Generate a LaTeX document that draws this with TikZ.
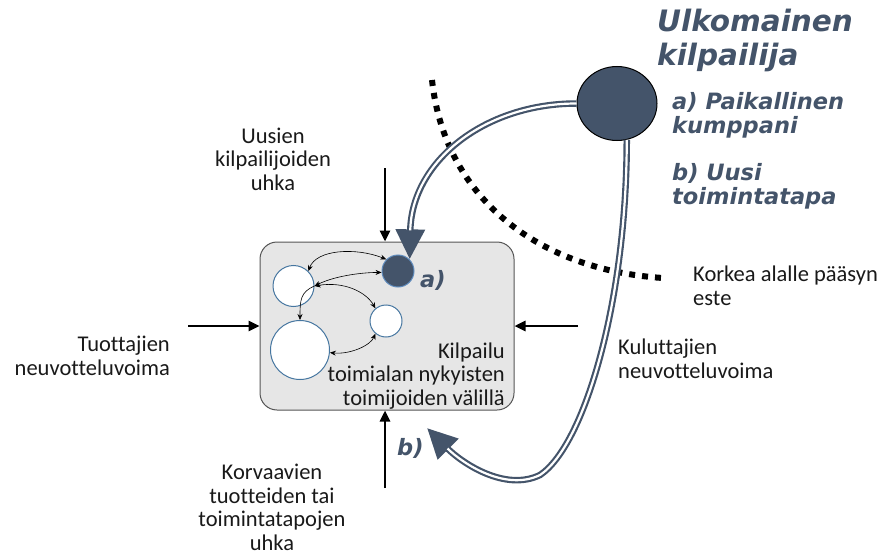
\documentclass[tikz,border=0pt]{standalone}
\usepackage{fontspec}
\setmainfont[Ligatures=NoCommon]{Carlito}
\newfontfamily\headfont{DejaVu Sans}
\usetikzlibrary{arrows.meta,shapes.geometric}
\definecolor{slate}{RGB}{68,84,106}
\definecolor{boxfill}{RGB}{230,230,230}
\definecolor{boxline}{RGB}{85,85,85}
\definecolor{ringblue}{RGB}{70,118,160}
\definecolor{dkring}{RGB}{95,140,190}
\tikzset{
  mainbox/.style={draw=boxline, fill=boxfill, line width=1pt, rounded corners=17pt,
    minimum width=254pt, minimum height=168pt, inner sep=0pt},
  wcirc/.style={circle, draw=ringblue, fill=white, line width=1pt, inner sep=0pt},
  dkcirc/.style={circle, draw=dkring, fill=slate, line width=1pt, inner sep=0pt},
  bodytxt/.style={font=\fontsize{22.5}{23.5}\selectfont, inner sep=0pt, text=black!90},
  headtxt/.style={font=\headfont\bfseries\itshape\fontsize{29.5}{34}\selectfont, text=slate, inner sep=0pt, align=left},
  subtxt/.style={font=\headfont\bfseries\itshape\fontsize{22.5}{24}\selectfont, text=slate, inner sep=0pt, align=left},
  force/.style={line width=2.6pt, -{Triangle[length=11pt,width=10pt]}},
  rel/.style={line width=0.6pt, -{Stealth[length=6pt,width=5pt]}},
  relboth/.style={line width=0.6pt, {Stealth[length=6pt,width=5pt]}-{Stealth[length=6pt,width=5pt]}},
  dblout/.style={draw=slate, line width=6.5pt, -{Triangle[length=30pt,width=28pt]}},
  dblin/.style={draw=white, line width=2.2pt, shorten >=29pt},
  barrier/.style={line width=6pt, dash pattern=on 6pt off 7pt}
}
\begin{document}
\begin{tikzpicture}[x=1pt,y=-1pt]
\useasboundingbox (0,0) rectangle (883,559);

% barrier (dotted)
\draw[barrier] (432,80) .. controls (445,200) and (540,270) .. (663,278);

% main box
\node[mainbox] (box) at (387,326) {};

% circles inside
\node[wcirc, minimum size=41pt] (c1) at (293.5,286) {};
\node[wcirc, minimum size=59pt] (c2) at (300,350) {};
\node[wcirc, minimum size=32pt] (c3) at (386,321) {};
\node[dkcirc, minimum size=32pt] (dk) at (398,271) {};

% relations
\draw[relboth] (c1.45) .. controls +(8,-22) and +(-30,-12) .. (dk.135);
\draw[relboth] (c1.east) .. controls +(20,-10) and +(-20,0) .. (dk.185);
\draw[relboth] (c1.east) .. controls +(30,-5) and +(-9,-16) .. (c3.130);
\draw[rel] (c1.east) .. controls +(-14,6) and +(0,-20) .. (c2.north);
\draw[relboth] (c2.-5) .. controls +(20,2) and +(-5,12) .. (c3.230);

% box text
\node[bodytxt, align=right, anchor=base east] (comp) at (505,405)
  {Kilpailu\\toimialan nykyisten\\toimijoiden välillä};

% forces
\coordinate (ftop) at (385,168);
\coordinate (fbot) at (385,488);
\coordinate (fleft) at (188,326);
\coordinate (fright) at (578,326);
\draw[force] (ftop) -- (ftop |- box.north);
\draw[force] (fbot) -- (fbot |- box.south);
\draw[force] (fleft) -- (box.west);
\draw[force] (fright) -- (box.east);

% force labels
\node[bodytxt, align=center, anchor=base] (newc) at (273,190)
  {Uusien\\kilpailijoiden\\uhka};
\node[bodytxt, align=right, anchor=base east] (supp) at (170,375)
  {Tuottajien\\neuvotteluvoima};
\node[bodytxt, align=left, anchor=base west] (cust) at (618,378)
  {Kuluttajien\\neuvotteluvoima};
\node[bodytxt, align=center, anchor=base] (subs) at (272,550)
  {Korvaavien\\tuotteiden tai\\toimintatapojen\\uhka};
\node[bodytxt, align=left, anchor=base west] (barr) at (693,305)
  {Korkea alalle pääsyn\\este};

% foreign competitor
\node[ellipse, draw=black, fill=slate, line width=1pt, minimum width=80pt, minimum height=74pt, inner sep=0pt] (ext) at (617,103.5) {};
\node[headtxt, anchor=base west] (title) at (657,66) {Ulkomainen\\kilpailija};
\node[subtxt, anchor=base west] (opta) at (672,133) {a) Paikallinen\\kumppani};
\node[subtxt, anchor=base west] (optb) at (672,204) {b) Uusi\\toimintatapa};

% entry paths
\draw[dblout] (ext.west) .. controls +(-92,0) and +(2,-98) .. (dk.45);
\draw[dblin] (ext.west) .. controls +(-92,0) and +(2,-98) .. (dk.45);

\coordinate (bt) at (427,428);
\draw[dblout] (ext.-75) .. controls +(0,160) and +(45,-30) .. (540,475) .. controls +(-35,17) and +(35,35) .. (bt);
\draw[dblin] (ext.-75) .. controls +(0,160) and +(45,-30) .. (540,475) .. controls +(-35,17) and +(35,35) .. (bt);

\node[subtxt, anchor=base west] (la) at (420,287) {a)};
\node[subtxt, anchor=base west] (lb) at (397,455) {b)};
\end{tikzpicture}
\end{document}
